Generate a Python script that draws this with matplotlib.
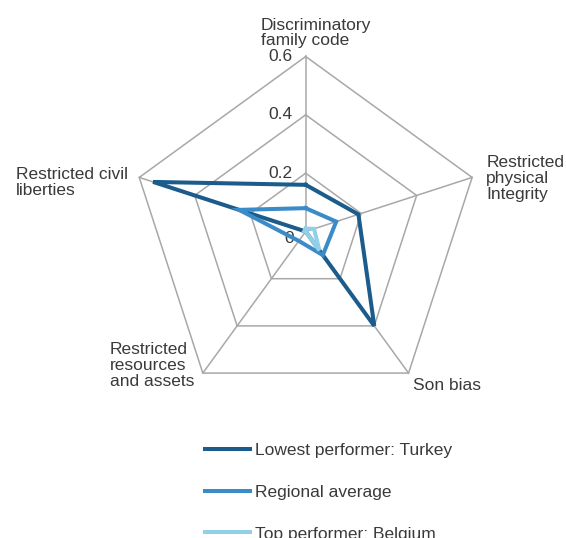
import numpy as np
import matplotlib
matplotlib.use('Agg')
from matplotlib import pyplot as plt

plt.rcParams['font.family'] = ['Liberation Sans', 'DejaVu Sans']

# categories, clockwise from the top
categories = ['Discriminatory\nfamily code', 'Restricted\nphysical\nIntegrity', 'Son bias',
              'Restricted\nresources\nand assets', 'Restricted civil\nliberties']
turkey = [0.16, 0.19, 0.40, 0.0, 0.55]
regional = [0.08, 0.11, 0.10, 0.04, 0.24]
belgium = [0.01, 0.03, 0.08, 0.0, 0.005]
series_labels = ['Lowest performer: Turkey', 'Regional average', 'Top performer: Belgium']
r_ticks = [0, 0.2, 0.4, 0.6]
r_tick_labels = ['0', '0.2', '0.4', '0.6']

colors = ['#1b5c8c', '#3b8bc8', '#92d0e8']
grid_col = '#a8a8a8'
text_col = '#3a3a3a'

n = len(categories)
theta = np.arange(n) * 2 * np.pi / n
theta_c = np.append(theta, theta[0])

fig = plt.figure(figsize=(5.66, 5.38), dpi=100)
# centre at (305.7, 231.5) px, radius 175 px
ax = fig.add_axes([0.2309, 0.2444, 0.6184, 0.6506], projection='polar')
ax.set_theta_offset(np.pi / 2)
ax.set_theta_direction(-1)
ax.set_ylim(0, 0.6)
ax.grid(False)
ax.spines['polar'].set_visible(False)
ax.set_xticks([])
ax.set_yticks([])
ax.patch.set_alpha(0)

# pentagon grid and spokes
for r in r_ticks[1:]:
  ax.plot(theta_c, [r] * (n + 1), color=grid_col, lw=1.1, zorder=1, clip_on=False)
for t in theta:
  ax.plot([t, t], [0, 0.6], color=grid_col, lw=1.1, zorder=1, clip_on=False)

# radial tick labels along the top spoke
for r, lab in zip(r_ticks, r_tick_labels):
  dx, dy = (-12, -7) if r == 0 else (-13, 0)
  ax.annotate(lab, xy=(0, r), xytext=(dx, dy), textcoords='offset pixels',
              ha='right', va='center', fontsize=12.5, color=text_col,
              annotation_clip=False)

# series
handles = []
for vals, col, lab in zip([turkey, regional, belgium], colors, series_labels):
  v = np.append(vals, vals[0])
  h, = ax.plot(theta_c, v, color=col, lw=2.9, solid_joinstyle='miter', zorder=3,
               clip_on=False, label=lab)
  handles.append(h)
# draw order: lighter on top
handles[1].set_zorder(4)
handles[2].set_zorder(5)

# category labels, offsets in pixels from each outer vertex
offsets = [(-45, 8, 'left', 'bottom'), (14, 22, 'left', 'top'), (4, -5, 'left', 'top'),
           (-93, 31, 'left', 'top'), (-11, 10, 'right', 'top')]
for t, lab, (dx, dy, ha, va) in zip(theta, categories, offsets):
  ax.annotate(lab, xy=(t, 0.6), xytext=(dx, dy), textcoords='offset pixels',
              ha=ha, va=va, multialignment='left', fontsize=12.5, color=text_col,
              linespacing=1.08, annotation_clip=False)

fig.legend(handles=handles, labels=series_labels, loc='upper left',
           bbox_to_anchor=(0.362, 0.176), frameon=False, fontsize=12.5,
           handlelength=2.6, handletextpad=0.3, labelspacing=1.52,
           borderpad=0, borderaxespad=0, labelcolor=text_col)

fig.savefig('out.png', dpi=100)
